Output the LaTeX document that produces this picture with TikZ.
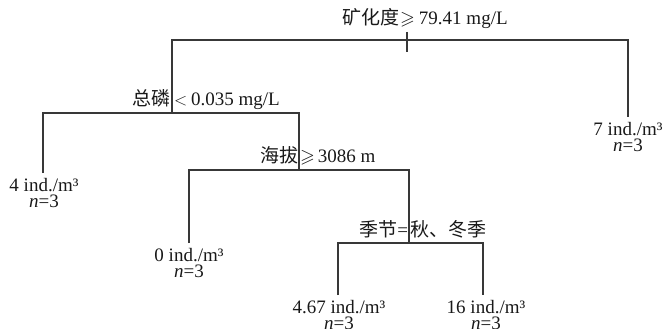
\documentclass[tikz,border=0pt]{standalone}
\usepackage{amssymb}
\usepackage{fontspec}
\setmainfont{Liberation Serif}
\newfontfamily\cjk{Noto Sans CJK SC}
\tikzset{
  treeline/.style={draw=black!78, line width=1.1pt},
  splitlabel/.style={anchor=base, inner sep=0pt, text=black!90},
  leaflabel/.style={anchor=north, inner sep=0pt, align=center, text=black!90}
}
\begin{document}
\begin{tikzpicture}[x=1pt, y=-1pt, font=\fontsize{19}{16}\selectfont]
\path[use as bounding box] (0,0) rectangle (664,329);
% coordinates
\coordinate (rt1) at (407,32);
\coordinate (rt2) at (407,52);
\coordinate (rL) at (172,40);
\coordinate (rR) at (628,40);
\coordinate (a) at (172,113);
\coordinate (aL) at (43,113);
\coordinate (aR) at (299,113);
\coordinate (b) at (299,170);
\coordinate (bL) at (189,170);
\coordinate (bR) at (409,170);
\coordinate (c) at (409,243);
\coordinate (cL) at (338,243);
\coordinate (cR) at (483,243);
\coordinate (e4) at (43,173);
\coordinate (e7) at (628,117);
\coordinate (e0) at (189,243);
\coordinate (e467) at (338,295);
\coordinate (e16) at (483,295);
% split labels
\node[splitlabel, anchor=base west] (root) at (342,25) {{\cjk 矿化度}\kern1pt$\geqslant$\kern4pt 79.41 mg/L};
\node[splitlabel] (tp) at (172,106) {\llap{{\cjk 总磷}\kern1.5pt}\rlap{\kern2pt$<$\kern4pt 0.035 mg/L}};
\node[splitlabel] (alt) at (299,162) {\llap{{\cjk 海拔}\kern1pt}\rlap{\kern1pt$\geqslant$\kern3pt 3086 m}};
\node[splitlabel] (sea) at (409,236) {\llap{{\cjk 季节}=\kern1pt}\rlap{\kern1pt{\cjk 秋、冬季}}};
% leaves
\node[leaflabel] (l4) at ([shift={(1,5)}]e4) {4 ind./m³\\\textit{n}=3};
\node[leaflabel] (l7) at ([shift={(0,5)}]e7) {7 ind./m³\\\textit{n}=3};
\node[leaflabel] (l0) at ([shift={(0,5)}]e0) {0 ind./m³\\\textit{n}=3};
\node[leaflabel] (l467) at ([shift={(1,5)}]e467) {4.67 ind./m³\\\textit{n}=3};
\node[leaflabel] (l16) at ([shift={(3,5)}]e16) {16 ind./m³\\\textit{n}=3};
% lines
\draw[treeline] (rt1) -- (rt2);
\draw[treeline] (a) -- (rL) -- (rR) -- (e7);
\draw[treeline] (e4) -- (aL) -- (aR) -- (b);
\draw[treeline] (e0) -- (bL) -- (bR) -- (c);
\draw[treeline] (e467) -- (cL) -- (cR) -- (e16);
\end{tikzpicture}
\end{document}
